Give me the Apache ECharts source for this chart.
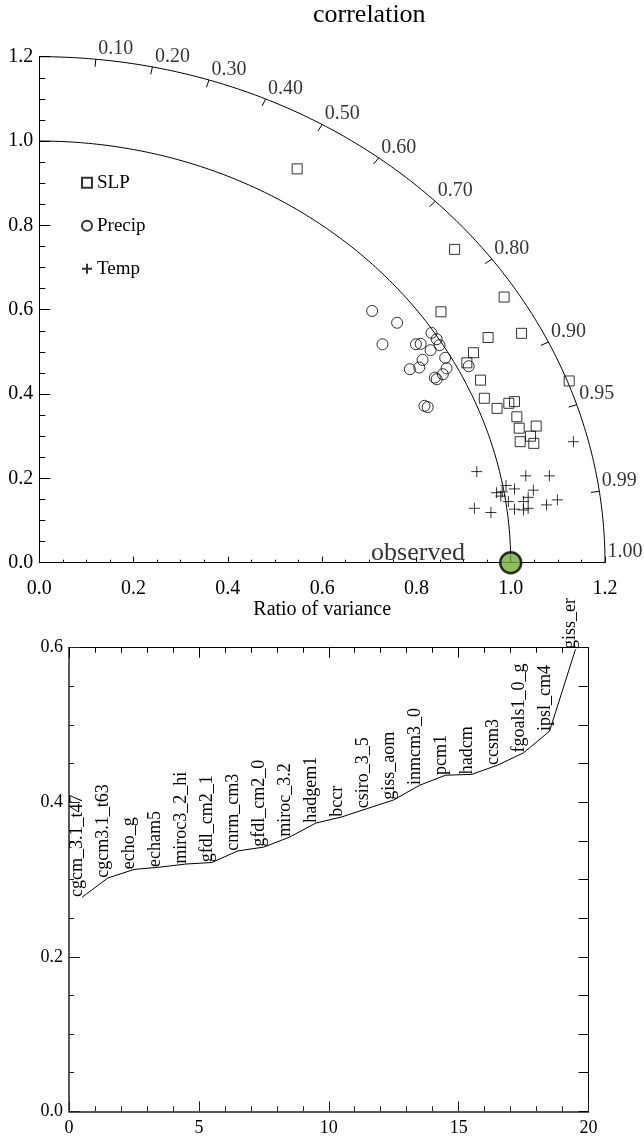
<!DOCTYPE html>
<html><head><meta charset="utf-8">
<script src="https://cdn.jsdelivr.net/npm/echarts@6/dist/echarts.min.js"></script>
<style>html,body{margin:0;padding:0;background:#fff}#c{width:644px;height:1138px}</style>
</head><body><div id="c"></div>
<script>
const FONT = '"Liberation Serif","Times New Roman",serif';

// ---- Taylor diagram data (x = ratio*corr, y = ratio*sqrt(1-corr^2)) ----
const slpX = [0.547,0.881,0.986,0.852,1.023,0.952,0.921,0.907,0.936,1.124,0.944,0.971,0.996,1.008,1.013,1.018,1.054,1.042,1.020,1.049];
const slpY = [0.934,0.743,0.630,0.595,0.544,0.534,0.498,0.474,0.433,0.431,0.390,0.366,0.378,0.382,0.346,0.319,0.324,0.300,0.287,0.283];
const precipX = [0.706,0.759,0.728,0.832,0.843,0.799,0.809,0.849,0.830,0.861,0.813,0.806,0.786,0.864,0.856,0.839,0.843,0.911,0.817,0.824];
const precipY = [0.597,0.569,0.518,0.545,0.530,0.518,0.519,0.516,0.504,0.486,0.481,0.463,0.459,0.461,0.447,0.439,0.435,0.466,0.372,0.369];
const tempX = [1.133,0.928,1.032,1.082,0.990,1.008,1.048,0.970,0.982,0.979,1.037,0.995,1.027,1.099,1.076,0.923,0.958,1.008,1.027,1.037];
const tempY = [0.287,0.216,0.206,0.206,0.183,0.175,0.172,0.166,0.168,0.158,0.155,0.145,0.145,0.149,0.137,0.129,0.119,0.127,0.125,0.129];
const observed = [1.0, 0.0];
const refRadii = [1.0, 1.2];
const corrTicks = [0.1,0.2,0.3,0.4,0.5,0.6,0.7,0.8,0.9,0.95,0.99];
const corrLabels = ['0.10','0.20','0.30','0.40','0.50','0.60','0.70','0.80','0.90','0.95','0.99','1.00'];
const corrLabelValues = [0.1,0.2,0.3,0.4,0.5,0.6,0.7,0.8,0.9,0.95,0.99,1.0];

// ---- ranking chart data ----
const models = ['cgcm_3.1_t47','cgcm3.1_t63','echo_g','echam5','miroc3_2_hi','gfdl_cm2_1','cnrm_cm3','gfdl_cm2_0','miroc_3.2','hadgem1','bccr','csiro_3_5','giss_aom','inmcm3_0','pcm1','hadcm','ccsm3','fgoals1_0_g','ipsl_cm4','giss_er'];
const modelScore = [0.277,0.302,0.313,0.316,0.320,0.322,0.337,0.342,0.355,0.373,0.381,0.392,0.403,0.422,0.435,0.436,0.448,0.464,0.492,0.598];

const OUTER = 1.2;
function arc(R){ const pts=[]; for(let k=0;k<=180;k++){ const t=k/180*Math.PI/2; pts.push([R*Math.cos(t), R*Math.sin(t)]);} return pts; }
const zip = (a,b)=>a.map((v,i)=>[v,b[i]]);

const chart = echarts.init(document.getElementById('c'), null, {renderer:'canvas'});
const black = '#000';
const txt = (s)=>({color:black, fontFamily:FONT, fontSize:s});

const hollow = {color:'transparent', borderColor:black, borderWidth:1};

chart.setOption({
  animation:false,
  backgroundColor:'#fff',
  title:{text:'correlation', left:313, top:2, padding:0, textStyle:{color:black,fontFamily:FONT,fontSize:26,fontWeight:'normal'}},
  legend:{data:['SLP','Precip','Temp'], orient:'vertical', left:81, top:172.7, padding:0, itemWidth:10, itemHeight:10, itemGap:23,
          selectedMode:false, textStyle:{color:black,fontFamily:FONT,fontSize:19,lineHeight:20}},
  grid:[
    {left:39.3, top:56.7, width:565.7, height:506, outerBoundsMode:'none', containLabel:false},
    {left:69, top:647.7, width:519.5, height:463.6, outerBoundsMode:'none', containLabel:false}
  ],
  xAxis:[
    {gridIndex:0, type:'value', min:0, max:1.2, interval:0.2,
     name:'Ratio of variance', nameLocation:'middle', nameGap:36, nameTextStyle:txt(20),
     axisLine:{lineStyle:{color:black,width:1}},
     axisTick:{inside:true,length:6,lineStyle:{color:black}},
     minorTick:{show:true,splitNumber:4,length:3,lineStyle:{color:black}},
     splitLine:{show:false},
     axisLabel:{...txt(20), margin:16, formatter:v=>v.toFixed(1)}},
    {gridIndex:1, type:'value', min:0, max:20, interval:5, position:'bottom',
     axisLine:{onZero:false, lineStyle:{color:'#222',width:1.5}},
     axisTick:{inside:true,length:10,lineStyle:{color:'#222'}},
     minorTick:{show:true,splitNumber:5,length:5,lineStyle:{color:'#222'}},
     splitLine:{show:false},
     axisLabel:{...txt(18), margin:8}},
    {gridIndex:1, type:'value', min:0, max:20, interval:5, position:'top',
     axisLine:{onZero:false, lineStyle:{color:black,width:1}},
     axisTick:{inside:true,length:10,lineStyle:{color:black}},
     minorTick:{show:true,splitNumber:5,length:5,lineStyle:{color:black}},
     splitLine:{show:false}, axisLabel:{show:false}}
  ],
  yAxis:[
    {gridIndex:0, type:'value', min:0, max:1.2, interval:0.2,
     axisLine:{show:true,lineStyle:{color:black,width:1}},
     axisTick:{show:true,inside:true,length:11,lineStyle:{color:black}},
     minorTick:{show:true,splitNumber:4,length:6,lineStyle:{color:black}},
     splitLine:{show:false},
     axisLabel:{...txt(20), margin:6, formatter:v=>v.toFixed(1)}},
    {gridIndex:1, type:'value', min:0, max:0.6, interval:0.2, position:'left',
     axisLine:{show:true,onZero:false,lineStyle:{color:'#222',width:1.5}},
     axisTick:{show:true,inside:true,length:11,lineStyle:{color:'#222'}},
     minorTick:{show:true,splitNumber:4,length:5,lineStyle:{color:'#222'}},
     splitLine:{show:false},
     axisLabel:{...txt(18), margin:6, formatter:v=>v.toFixed(1)}},
    {gridIndex:1, type:'value', min:0, max:0.6, interval:0.2, position:'right',
     axisLine:{show:true,onZero:false,lineStyle:{color:black,width:1}},
     axisTick:{show:true,inside:true,length:10,lineStyle:{color:black}},
     minorTick:{show:true,splitNumber:4,length:10,lineStyle:{color:black}},
     splitLine:{show:false}, axisLabel:{show:false}}
  ],
  series:[
    ...refRadii.map(R=>({type:'line', xAxisIndex:0, yAxisIndex:0, data:arc(R), showSymbol:false, symbol:'none',
       lineStyle:{color:black,width:1}, clip:false, silent:true, z:1})),
    {type:'custom', xAxisIndex:0, yAxisIndex:0, clip:false, silent:true,
     data:corrTicks.map(r=>[r,0]),
     renderItem:(params,api)=>{
        const r=api.value(0), s=Math.sqrt(1-r*r);
        const p1=api.coord([OUTER*r,OUTER*s]), p2=api.coord([(OUTER-0.018)*r,(OUTER-0.018)*s]);
        return {type:'line', shape:{x1:p1[0],y1:p1[1],x2:p2[0],y2:p2[1]}, style:{stroke:black,lineWidth:1}};
     }},
    {type:'scatter', xAxisIndex:0, yAxisIndex:0, clip:false, silent:true, symbolSize:1, itemStyle:{color:'transparent'},
     data:corrLabelValues.map((r,i)=>({value:[OUTER*r, OUTER*Math.sqrt(Math.max(0,1-r*r))], name:corrLabels[i]})),
     label:{show:true, position:[3,-10], align:'left', verticalAlign:'middle', formatter:p=>p.name, ...txt(20)}},
    {name:'SLP', type:'scatter', xAxisIndex:0, yAxisIndex:0, symbol:'rect', symbolSize:10, itemStyle:hollow, data:zip(slpX,slpY), z:3},
    {name:'Precip', type:'scatter', xAxisIndex:0, yAxisIndex:0, symbol:'circle', symbolSize:11, itemStyle:hollow, data:zip(precipX,precipY), z:3},
    {name:'Temp', type:'scatter', xAxisIndex:0, yAxisIndex:0, symbol:'path://M0,5L10,5M5,0L5,10', symbolSize:11, itemStyle:hollow, data:zip(tempX,tempY), z:3},
    {type:'scatter', xAxisIndex:0, yAxisIndex:0, clip:false, symbol:'circle', symbolSize:21,
     itemStyle:{color:'#72ad3a', borderColor:black, borderWidth:2.5}, data:[observed], z:5,
     label:{show:true, position:'left', distance:34, offset:[0,-10], formatter:'observed', ...txt(26)}},
    {type:'line', xAxisIndex:1, yAxisIndex:1, clip:false,
     data:modelScore.map((v,i)=>[i+0.5, v]),
     symbol:'circle', symbolSize:0.5, showSymbol:true, itemStyle:{color:'transparent'},
     lineStyle:{color:black,width:1},
     label:{show:true, position:[0,0], rotate:90, align:'left', verticalAlign:'bottom', lineHeight:9,
            formatter:p=>models[p.dataIndex], ...txt(18)}}
  ]
});
</script></body></html>
